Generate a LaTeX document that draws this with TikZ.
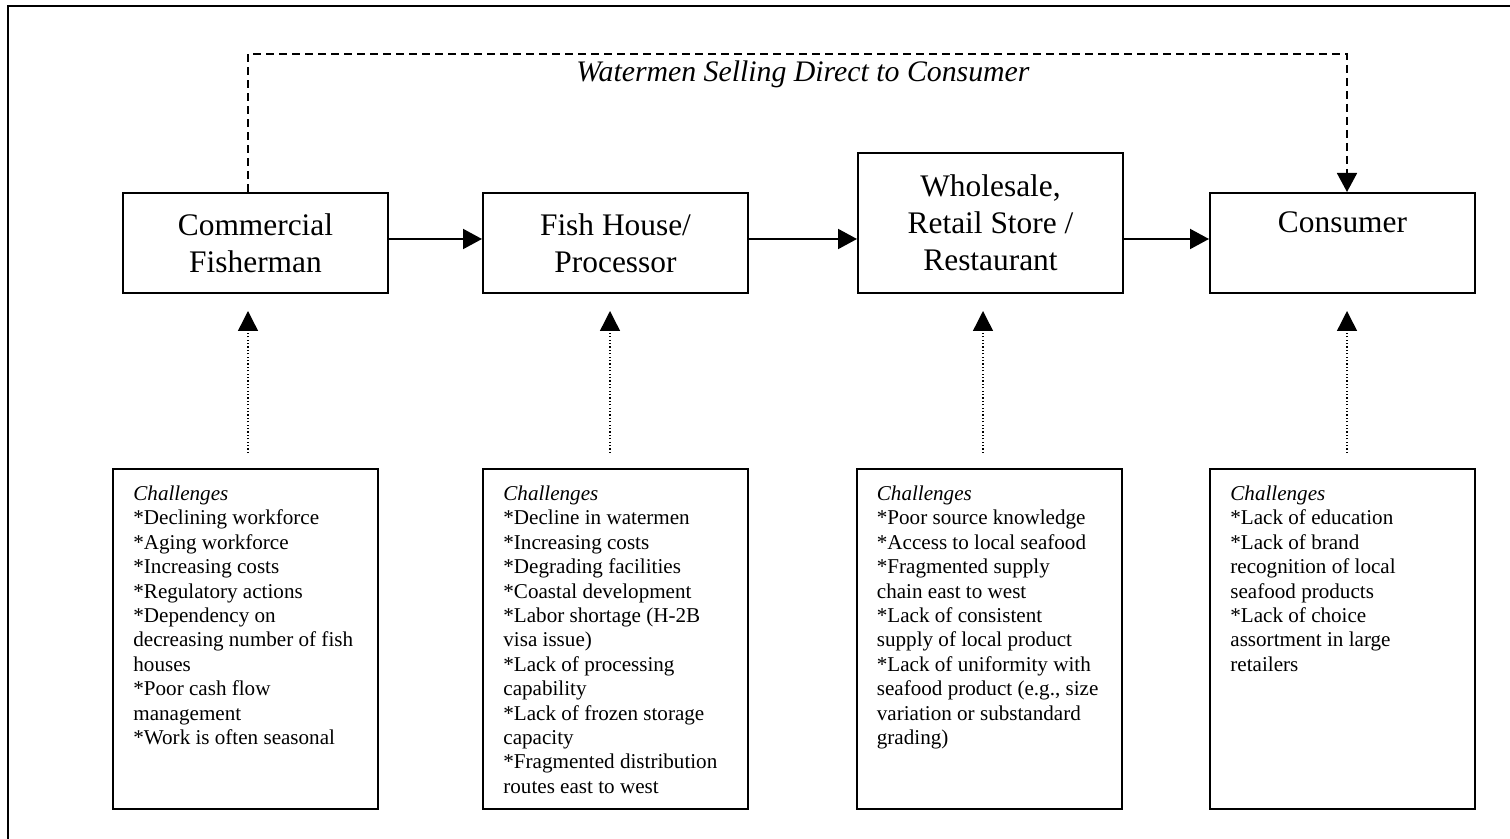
\documentclass[tikz,border=0pt]{standalone}
\usepackage{fontspec}
\setmainfont{Liberation Serif}
\usetikzlibrary{arrows.meta}

\begin{document}
\begin{tikzpicture}[x=0.5pt,y=-0.5pt,
  stage/.style={draw,line width=1pt,minimum width=132.5pt,minimum height=50pt,
    align=center,inner sep=2pt,font=\fontsize{15.7}{18.5}\selectfont},
  issuebox/.style={draw,line width=1pt,minimum width=132.5pt,minimum height=170pt},
  issuetext/.style={anchor=north west,align=left,inner sep=0pt,
    font=\fontsize{10.55}{12.2}\selectfont},
  flow/.style={line width=1pt,-{Triangle[length=9.5pt,width=10pt]}},
  direct/.style={line width=0.9pt,dash pattern=on 4pt off 2.5pt,
    -{Triangle[length=9.5pt,width=10pt]}},
  issue/.style={line width=0.7pt,dash pattern=on 0.6pt off 1.1pt,
    -{Triangle[length=10pt,width=10pt]}}]
\clip (0,0) rectangle (1510,839);
\draw[line width=1.2pt] (8,6) rectangle (1530,860);

% supply chain
\node[stage] (fisherman) at (255.5,243) {Commercial\\Fisherman};
\node[stage] (fish) at (615.5,243) {Fish House/\\Processor};
\node[stage,minimum height=70pt] (wholesale) at (990.5,223) {Wholesale,\\Retail Store /\\Restaurant};
\node[stage,text height=11pt,text depth=21pt] (consumer) at (1342.5,243) {Consumer};

\coordinate (row) at (0,239);
\draw[flow] (fisherman.east |- row) -- (fish.west |- row);
\draw[flow] (fish.east |- row) -- (wholesale.west |- row);
\draw[flow] (wholesale.east |- row) -- (consumer.west |- row);

% direct sales
\coordinate (d1) at (248,54);
\coordinate (d2) at (1347,54);
\draw[direct] (fisherman.north -| d1) -- (d1) -- (d2) -- (consumer.north -| d2);
\node[anchor=base,font=\fontsize{14.9}{17}\selectfont\itshape] (directsale) at (803,82)
  {Watermen Selling Direct to Consumer};

% challenges
\node[issuebox] (cfisherman) at (245.5,639) {};
\node[issuebox] (cfish) at (615.5,639) {};
\node[issuebox] (cwholesale) at (989,639) {};
\node[issuebox] (cconsumer) at (1342.5,639) {};

\node[issuetext] (tfisherman) at ([xshift=10.5pt,yshift=-8.75pt]cfisherman.north west)
  {\textit{Challenges}\\*Declining workforce\\*Aging workforce\\*Increasing costs\\
   *Regulatory actions\\*Dependency on\\decreasing number of fish\\houses\\
   *Poor cash flow\\management\\*Work is often seasonal};
\node[issuetext] (tfish) at ([xshift=10.5pt,yshift=-8.75pt]cfish.north west)
  {\textit{Challenges}\\*Decline in watermen\\*Increasing costs\\*Degrading facilities\\
   *Coastal development\\*Labor shortage (H-2B\\visa issue)\\*Lack of processing\\
   capability\\*Lack of frozen storage\\capacity\\*Fragmented distribution\\
   routes east to west};
\node[issuetext] (twholesale) at ([xshift=10.5pt,yshift=-8.75pt]cwholesale.north west)
  {\textit{Challenges}\\*Poor source knowledge\\*Access to local seafood\\
   *Fragmented supply\\chain east to west\\*Lack of consistent\\
   supply of local product\\*Lack of uniformity with\\seafood product (e.g., size\\
   variation or substandard\\grading)};
\node[issuetext] (tconsumer) at ([xshift=10.5pt,yshift=-8.75pt]cconsumer.north west)
  {\textit{Challenges}\\*Lack of education\\*Lack of brand\\recognition of local\\
   seafood products\\*Lack of choice\\assortment in large\\retailers};

\foreach \x/\n in {248/fisherman,610/fish,983/wholesale,1347/consumer} {
\coordinate (i\n) at (\x,453);
\draw[issue,shorten >=8.5pt] (i\n) -- (i\n |- \n.south);
}
\end{tikzpicture}
\end{document}
